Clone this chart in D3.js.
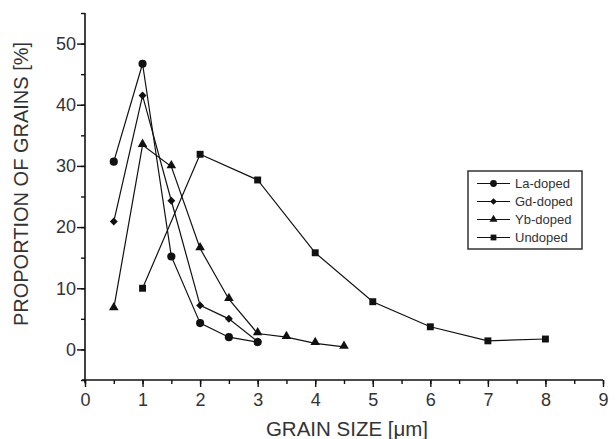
<!DOCTYPE html>
<html><head><meta charset="utf-8">
<script src="https://cdn.jsdelivr.net/npm/d3@7"></script>
<style>body{margin:0;background:#fff}svg{display:block}</style>
</head><body><svg id="c" width="616" height="439"></svg>
<script>
const laX = [0.5, 1, 1.5, 2, 2.5, 3];
const laY = [30.7, 46.7, 15.2, 4.3, 2.0, 1.2];
const gdX = [0.5, 1, 1.5, 2, 2.5, 3];
const gdY = [20.9, 41.5, 24.3, 7.2, 5.0, 1.3];
const ybX = [0.5, 1, 1.5, 2, 2.5, 3, 3.5, 4, 4.5];
const ybY = [6.7, 33.4, 29.9, 16.5, 8.2, 2.6, 2.0, 1.0, 0.4];
const unX = [1, 2, 3, 4, 5, 6, 7, 8];
const unY = [10.0, 31.9, 27.7, 15.8, 7.8, 3.7, 1.4, 1.7];
const seriesNames = ["La-doped", "Gd-doped", "Yb-doped", "Undoped"];
const xTicks = [0,1,2,3,4,5,6,7,8,9];
const yTicks = [0,10,20,30,40,50];

const diamond = d3.symbolDiamond2 || d3.symbolDiamond;
const series = [
  {name: seriesNames[0], xs: laX, ys: laY, sym: d3.symbolCircle, size: 52},
  {name: seriesNames[1], xs: gdX, ys: gdY, sym: diamond, size: 40},
  {name: seriesNames[2], xs: ybX, ys: ybY, sym: d3.symbolTriangle, size: 40},
  {name: seriesNames[3], xs: unX, ys: unY, sym: d3.symbolSquare, size: 48}
];

const svg = d3.select("#c");
const pL = 85, pR = 603, pT = 13, pB = 380;
const x = d3.scaleLinear().domain([0, 9]).range([pL, pR]);
const y = d3.scaleLinear().domain([-5, 55]).range([pB, pT]);
const ink = "#111", txt = "#333";
const font = "Arial, 'Liberation Sans', sans-serif";

// x axis
const gx = svg.append("g").attr("transform", `translate(0,${pB})`);
gx.call(d3.axisBottom(x).tickValues(d3.range(0, 9.01, 0.5)).tickSize(4).tickFormat(""));
gx.selectAll(".tick line").attr("stroke", ink).attr("stroke-width", 1.4);
const gx2 = svg.append("g").attr("transform", `translate(0,${pB})`);
gx2.call(d3.axisBottom(x).tickValues(xTicks).tickSize(7).tickPadding(6).tickFormat(d3.format("d")));
gx2.selectAll(".tick text").attr("font-size", 18).attr("font-family", font).attr("fill", txt);
gx2.selectAll(".tick line").attr("stroke", ink).attr("stroke-width", 1.4);
gx.select(".domain").attr("d", `M${pL-3},0H${pR}`).attr("stroke", ink).attr("stroke-width", 1.6);
gx2.select(".domain").remove();

// y axis
const gy = svg.append("g").attr("transform", `translate(${pL},0)`);
gy.call(d3.axisLeft(y).tickValues(d3.range(-5, 55.01, 5)).tickSize(4).tickFormat(""));
gy.selectAll(".tick line").attr("stroke", ink).attr("stroke-width", 1.4);
gy.select(".domain").attr("d", `M0,${pT}V${pB+3}`).attr("stroke", ink).attr("stroke-width", 1.6);
const gy2 = svg.append("g").attr("transform", `translate(${pL},0)`);
gy2.call(d3.axisLeft(y).tickValues(yTicks).tickSize(8).tickPadding(1).tickFormat(d3.format("d")));
gy2.selectAll(".tick text").attr("font-size", 18).attr("font-family", font).attr("fill", txt);
gy2.selectAll(".tick line").attr("stroke", ink).attr("stroke-width", 1.4);
gy2.select(".domain").remove();

// axis titles
svg.append("text").attr("x", 347).attr("y", 436)
  .attr("text-anchor", "middle").attr("font-size", 20.5).attr("font-family", font).attr("fill", txt)
  .text("GRAIN SIZE [μm]");
svg.append("text").attr("transform", `translate(28,184) rotate(-90)`)
  .attr("text-anchor", "middle").attr("font-size", 20).attr("font-family", font).attr("fill", txt)
  .text("PROPORTION OF GRAINS [%]");

// series
const line = d3.line().x(d => x(d[0])).y(d => y(d[1]));
series.forEach(s => {
  const pts = s.xs.map((v, i) => [v, s.ys[i]]);
  svg.append("path").attr("d", line(pts)).attr("fill", "none").attr("stroke", ink).attr("stroke-width", 1.2);
  svg.append("g").selectAll("path").data(pts).join("path")
    .attr("transform", d => `translate(${x(d[0])},${y(d[1]) + (s.sym === d3.symbolTriangle ? -1 : 0)})`)
    .attr("d", d3.symbol().type(s.sym).size(s.size)).attr("fill", ink);
});

// legend
const lg = svg.append("g");
lg.append("rect").attr("x", 468).attr("y", 171).attr("width", 114).attr("height", 78)
  .attr("fill", "#fff").attr("stroke", "#333").attr("stroke-width", 1.5);
series.forEach((s, i) => {
  const yy = 183.5 + i * 18;
  lg.append("line").attr("x1", 477).attr("x2", 510).attr("y1", yy).attr("y2", yy).attr("stroke", ink).attr("stroke-width", 1.2);
  lg.append("path").attr("transform", `translate(493.5,${yy})`).attr("d", d3.symbol().type(s.sym).size(s.size * 0.7)).attr("fill", ink);
  lg.append("text").attr("x", 515).attr("y", yy + 4.5).attr("font-size", 13).attr("font-family", font).attr("fill", txt).text(s.name);
});
</script></body></html>
